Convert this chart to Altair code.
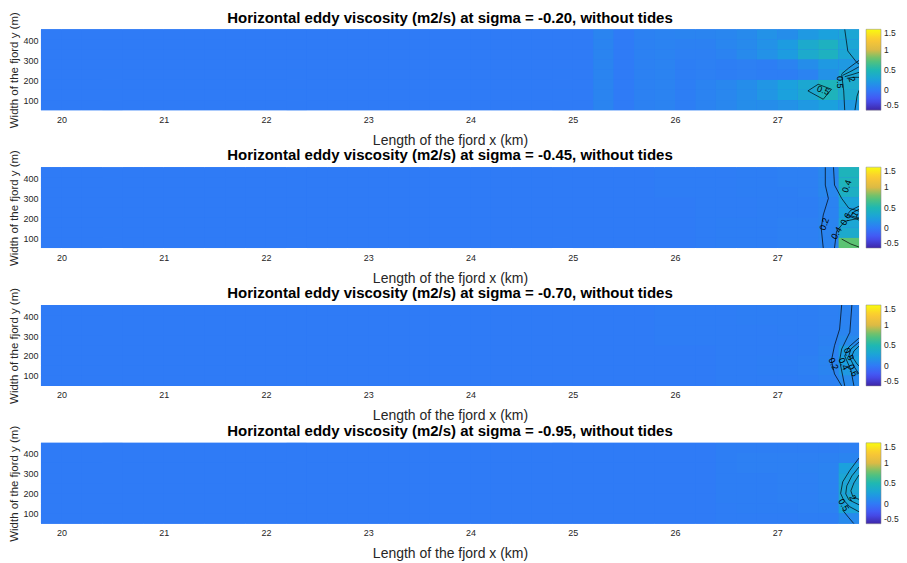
import altair as alt
import pandas as pd

# ---------------- data ----------------
SIGMAS = ["-0.20", "-0.45", "-0.70", "-0.95"]
X_START, X_SPLIT, X_END, CELL_W = 19.8, 25.2, 27.8, 0.2
Y_EDGES = [456, 405, 355, 304, 253, 202, 152, 101, 50]  # top -> bottom
BACKGROUND = 0.0  # uniform value west of 25.2 km
X_TICKS = [20, 21, 22, 23, 24, 25, 26, 27]
Y_TICKS = [100, 200, 300, 400]
CBAR_TICKS = [-0.5, 0, 0.5, 1, 1.5]

# viscosity for columns starting 25.2, 25.4, ..., 27.6 km ; rows top -> bottom
P1 = [
    [0.06, 0.00, 0.04, 0.05, 0.06, 0.06, 0.07, 0.10, 0.15, 0.12, 0.20, 0.25, 0.30],
    [0.06, 0.00, 0.04, 0.05, 0.04, 0.04, 0.07, 0.10, 0.15, 0.22, 0.35, 0.42, 0.30],
    [0.06, 0.00, 0.04, 0.05, 0.03, 0.03, 0.05, 0.10, 0.15, 0.22, 0.35, 0.42, 0.30],
    [0.06, 0.00, 0.04, 0.05, 0.02, 0.03, 0.02, 0.03, 0.02, 0.05, 0.12, 0.20, 0.20],
    [0.06, 0.00, 0.04, 0.05, 0.02, 0.03, 0.02, 0.03, 0.02, 0.02, 0.05, 0.15, 0.30],
    [0.06, 0.00, 0.04, 0.05, 0.02, 0.05, 0.08, 0.12, 0.18, 0.25, 0.32, 0.45, 0.35],
    [0.06, 0.00, 0.04, 0.05, 0.02, 0.05, 0.08, 0.12, 0.18, 0.25, 0.32, 0.45, 0.35],
    [0.06, 0.00, 0.04, 0.05, 0.02, 0.05, 0.08, 0.12, 0.12, 0.15, 0.20, 0.25, 0.20],
]
P2 = [
    [0.00, 0.00, 0.00, 0.01, 0.01, 0.01, 0.01, 0.02, 0.02, 0.03, 0.03, 0.08, 0.45],
    [0.00, 0.00, 0.00, 0.01, 0.01, 0.01, 0.01, 0.02, 0.02, 0.03, 0.03, 0.08, 0.45],
    [0.00, 0.00, 0.00, 0.01, 0.01, 0.01, 0.01, 0.02, 0.02, 0.02, 0.03, 0.08, 0.40],
    [0.00, 0.00, 0.00, 0.00, 0.00, 0.01, 0.01, 0.01, 0.02, 0.02, 0.02, 0.05, 0.28],
    [0.00, 0.00, 0.00, 0.00, 0.00, 0.01, 0.01, 0.01, 0.02, 0.02, 0.02, 0.05, 0.25],
    [0.00, 0.00, 0.00, 0.00, 0.00, 0.01, 0.02, 0.02, 0.02, 0.03, 0.03, 0.06, 0.30],
    [0.00, 0.00, 0.00, 0.00, 0.00, 0.01, 0.02, 0.02, 0.02, 0.03, 0.03, 0.06, 0.35],
    [0.00, 0.00, 0.00, 0.00, 0.00, 0.01, 0.02, 0.02, 0.02, 0.03, 0.03, 0.06, 0.75],
]
P3 = [
    [0.00, 0.00, 0.00, 0.01, 0.01, 0.01, 0.01, 0.02, 0.02, 0.02, 0.02, 0.03, 0.05],
    [0.00, 0.00, 0.00, 0.01, 0.01, 0.01, 0.01, 0.02, 0.02, 0.02, 0.02, 0.03, 0.05],
    [0.00, 0.00, 0.00, 0.01, 0.01, 0.01, 0.01, 0.01, 0.01, 0.02, 0.02, 0.03, 0.06],
    [0.00, 0.00, 0.00, 0.01, 0.01, 0.01, 0.01, 0.01, 0.01, 0.01, 0.02, 0.04, 0.10],
    [0.00, 0.00, 0.00, 0.00, 0.00, 0.00, 0.01, 0.01, 0.01, 0.01, 0.02, 0.05, 0.22],
    [0.00, 0.00, 0.00, 0.00, 0.00, 0.00, 0.01, 0.01, 0.02, 0.02, 0.03, 0.06, 0.25],
    [0.00, 0.00, 0.00, 0.00, 0.00, 0.00, 0.01, 0.01, 0.02, 0.02, 0.03, 0.06, 0.20],
    [0.00, 0.00, 0.00, 0.00, 0.00, 0.00, 0.01, 0.01, 0.01, 0.01, 0.02, 0.04, 0.10],
]
P4 = [
    [0.00, 0.00, 0.00, 0.00, 0.00, 0.00, 0.02, 0.02, 0.02, 0.02, 0.02, 0.02, 0.03],
    [0.00, 0.00, 0.00, 0.00, 0.00, 0.00, 0.02, 0.03, 0.03, 0.03, 0.03, 0.04, 0.06],
    [0.00, 0.00, 0.00, 0.00, 0.00, 0.00, 0.02, 0.03, 0.03, 0.03, 0.04, 0.05, 0.25],
    [0.00, 0.00, 0.00, 0.00, 0.00, 0.00, 0.02, 0.02, 0.02, 0.03, 0.03, 0.05, 0.30],
    [0.00, 0.00, 0.00, 0.00, 0.00, 0.00, 0.02, 0.02, 0.02, 0.03, 0.03, 0.05, 0.32],
    [0.00, 0.00, 0.00, 0.00, 0.00, 0.00, 0.02, 0.02, 0.02, 0.03, 0.03, 0.05, 0.32],
    [0.00, 0.00, 0.00, 0.00, 0.00, 0.00, 0.01, 0.02, 0.02, 0.02, 0.03, 0.04, 0.28],
    [0.00, 0.00, 0.00, 0.00, 0.00, 0.00, 0.01, 0.01, 0.01, 0.01, 0.02, 0.02, 0.10],
]
VALUES = [P1, P2, P3, P4]

# contour lines (x km, y m)
C1 = [
    [(27.66, 456), (27.69, 347), (27.78, 288), (27.80, 282)],
    [(27.63, 230), (27.65, 147), (27.66, 50)],
    [(27.63, 232), (27.70, 262), (27.80, 300)],
    [(27.64, 225), (27.72, 245), (27.80, 268)],
    [(27.66, 218), (27.74, 230), (27.80, 240)],
    [(27.68, 210), (27.75, 215), (27.80, 215)],
    [(27.30, 147), (27.40, 180), (27.53, 155), (27.45, 105), (27.30, 147)],
    [(27.76, 50), (27.78, 120), (27.80, 150)],
]
L1 = [(27.45, 150, "0.5", 20), (27.61, 190, "0.5", 90), (27.73, 205, "2", 70)]
C2 = [
    [(27.47, 456), (27.47, 366), (27.50, 299), (27.45, 216), (27.43, 150), (27.45, 50)],
    [(27.55, 456), (27.56, 366), (27.63, 299), (27.70, 250), (27.80, 235)],
    [(27.80, 200), (27.66, 184), (27.58, 134), (27.56, 50)],
    [(27.80, 260), (27.72, 240), (27.68, 215), (27.80, 190)],
    [(27.80, 245), (27.74, 228), (27.72, 212), (27.80, 200)],
    [(27.63, 95), (27.72, 70), (27.80, 55)],
]
L2 = [(27.46, 170, "0.2", 290), (27.68, 360, "0.4", 290), (27.58, 125, "0.4", 300),
      (27.67, 195, "0.6", 300), (27.76, 220, "1", 300)]
C3 = [
    [(27.63, 456), (27.61, 335), (27.56, 252), (27.53, 177), (27.56, 110), (27.63, 50)],
    [(27.73, 456), (27.71, 319), (27.63, 235), (27.61, 177), (27.66, 50)],
    [(27.80, 290), (27.70, 245), (27.66, 200), (27.72, 130), (27.75, 50)],
    [(27.80, 270), (27.72, 235), (27.70, 200), (27.76, 140), (27.80, 110)],
    [(27.80, 250), (27.75, 225), (27.73, 200), (27.78, 160), (27.80, 150)],
]
L3 = [(27.55, 160, "0.2", 65), (27.65, 160, "0.4", 65), (27.74, 128, "0.6", 65),
      (27.70, 210, "0.8", 65)]
C4 = [
    [(27.80, 380), (27.71, 318), (27.64, 260), (27.62, 202), (27.65, 168), (27.71, 135), (27.80, 110)],
    [(27.80, 335), (27.73, 290), (27.68, 240), (27.67, 200), (27.70, 170), (27.80, 145)],
    [(27.80, 295), (27.75, 255), (27.72, 215), (27.74, 185), (27.80, 172)],
    [(27.64, 118), (27.70, 80), (27.75, 50)],
]
L4 = [(27.65, 145, "0.5", 60), (27.74, 180, "2", 60)]
CONTOURS = [C1, C2, C3, C4]
LABELS = [L1, L2, L3, L4]

# parula-like colour stops
STOP_VALUES = [-0.5, -0.25, 0.0, 0.25, 0.5, 0.75, 1.0, 1.25, 1.5]
STOP_COLORS = ["#3e26a8", "#4752f4", "#2f7bf6", "#1ba1dd", "#1fb8b2",
               "#5cc373", "#dcba45", "#fcc834", "#f9fb0e"]

FONT = "Liberation Sans"

# ---------------- build tables ----------------
n_cols = int(round((X_END - X_START) / CELL_W))
n_left = int(round((X_SPLIT - X_START) / CELL_W))


def cells_for(p):
    rows = []
    for r in range(len(Y_EDGES) - 1):
        y_top, y_bot = Y_EDGES[r], Y_EDGES[r + 1]
        for c in range(n_cols):
            x0 = X_START + c * CELL_W
            v = BACKGROUND if c < n_left else VALUES[p][r][c - n_left]
            rows.append({"x0": x0, "x1": x0 + CELL_W, "y0": y_bot, "y1": y_top, "v": v})
    return pd.DataFrame(rows)


def base_for(p):
    return pd.DataFrame([{"x0": X_START, "x1": X_END, "y0": Y_EDGES[-1],
                          "y1": Y_EDGES[0], "v": BACKGROUND}])


def lines_for(p):
    rows = []
    for i, line in enumerate(CONTOURS[p]):
        for k, (x, y) in enumerate(line):
            rows.append({"line": i, "k": k, "x": x, "y": y})
    return pd.DataFrame(rows)


def labels_for(p):
    return pd.DataFrame([{"x": x, "y": y, "t": t, "a": a} for (x, y, t, a) in LABELS[p]])


xscale = alt.Scale(domain=[X_START, X_END], nice=False, zero=False)
yscale = alt.Scale(domain=[Y_EDGES[-1], Y_EDGES[0]], nice=False, zero=False)
cscale = alt.Scale(domain=STOP_VALUES, range=STOP_COLORS, clamp=True, interpolate="rgb")

xaxis = alt.Axis(values=X_TICKS, format="d", title="Length of the fjord x (km)",
                 ticks=False, domain=False, grid=False, labelFontSize=9,
                 labelPadding=5, titleFontSize=14, titleFontWeight="normal",
                 titlePadding=9, labelColor="#262626", titleColor="#262626",
                 labelFont=FONT, titleFont=FONT, labelOverlap=False)
yaxis = alt.Axis(values=Y_TICKS, format="d", title="Width of the fjord y (m)", ticks=False,
                 domain=False, grid=False, labelFontSize=9, labelPadding=3,
                 labelOverlap=False, labelBound=False, titleFontSize=11.5,
                 titleFontWeight="normal", titlePadding=3, labelColor="#262626",
                 titleColor="#262626", labelFont=FONT, titleFont=FONT)
LABEL_EXPR = "datum.value < 0 ? '-' + format(-datum.value, '~g') : format(datum.value, '~g')"


def panel(p):
    color = alt.Color("v:Q", scale=cscale, legend=alt.Legend(
        type="gradient", title=None, values=CBAR_TICKS, gradientLength=81,
        gradientThickness=15, offset=7, labelFontSize=8.5, labelFont=FONT,
        labelColor="#262626", gradientStrokeColor="#888888", gradientStrokeWidth=0.5,
        labelOffset=3, labelExpr=LABEL_EXPR, labelOverlap=False))
    X = alt.X("x0:Q", scale=xscale, axis=xaxis)
    Y = alt.Y("y0:Q", scale=yscale, axis=yaxis)
    base = alt.Chart(base_for(p)).mark_rect().encode(
        x=X, x2="x1:Q", y=Y, y2="y1:Q", color=color)
    heat = alt.Chart(cells_for(p)).mark_rect().encode(
        x=X, x2="x1:Q", y=Y, y2="y1:Q", color=color)
    lines = alt.Chart(lines_for(p)).mark_line(color="black", strokeWidth=0.7, clip=True).encode(
        x=alt.X("x:Q", scale=xscale, axis=xaxis), y=alt.Y("y:Q", scale=yscale, axis=yaxis),
        detail="line:N", order="k:Q")
    labels = alt.Chart(labels_for(p)).mark_text(fontSize=9, font=FONT, color="black").encode(
        x=alt.X("x:Q", scale=xscale, axis=xaxis), y=alt.Y("y:Q", scale=yscale, axis=yaxis),
        text="t:N", angle=alt.Angle("a:Q", scale=None))
    title = alt.TitleParams(
        f"Horizontal eddy viscosity (m2/s) at sigma = {SIGMAS[p]}, without tides",
        fontSize=15, fontWeight="bold", font=FONT, color="black", offset=-14, anchor="middle")
    return alt.layer(base, heat, lines, labels).properties(width=819, height=81, title=title)


chart = alt.vconcat(*[panel(p) for p in range(4)], spacing=1).resolve_scale(
    color="independent"
).properties(padding={"left": 0, "top": 2, "right": 0, "bottom": 0}
).configure_view(stroke=None)

chart.save("out.html", embed_options={"renderer": "svg", "actions": False})
